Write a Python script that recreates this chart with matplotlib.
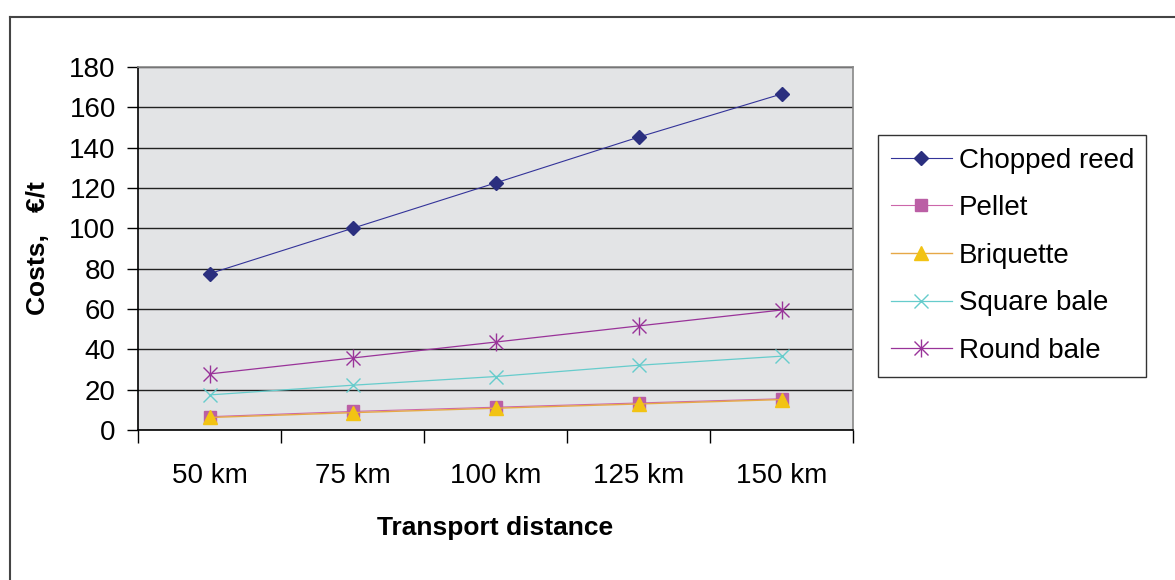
import matplotlib.pyplot as plt
from matplotlib.lines import Line2D
from matplotlib.legend_handler import HandlerTuple

plt.rcParams["font.family"] = ["Liberation Sans", "DejaVu Sans"]

distances = ["50 km", "75 km", "100 km", "125 km", "150 km"]
chopped_reed = [77.5, 100.0, 122.5, 145.2, 166.6]
pellet = [6.6, 9.2, 11.3, 13.4, 15.5]
briquette = [6.2, 8.6, 10.8, 12.9, 15.1]
square_bale = [17.4, 22.2, 26.5, 32.1, 36.6]
round_bale = [27.8, 35.7, 43.6, 51.6, 59.5]

W, H = 1175, 580
fig = plt.figure(figsize=(W / 100, H / 100), dpi=100)
ax = fig.add_axes([138 / W, 1 - 430 / H, (853 - 138) / W, (430 - 67) / H])
ax.set_facecolor("#e3e4e6")

x = list(range(len(distances)))

h1, = ax.plot(x, chopped_reed, color="#333399", lw=0.8, marker="D", ms=7,
              mfc="#2b2f7f", mec="#2b2f7f", zorder=5)
h2, = ax.plot(x, pellet, color="#cc66aa", lw=0.8, marker="s", ms=9,
              mfc="#bb5fa5", mec="#bb5fa5", zorder=5)
h3, = ax.plot(x, briquette, color="#e6a846", lw=1.0, marker="^", ms=10,
              mfc="#f2c314", mec="#f2c314", zorder=6)
h4, = ax.plot(x, square_bale, color="#66cccc", lw=0.9, marker="x", ms=10,
              mew=1.0, zorder=5)
h5, = ax.plot(x, round_bale, color="#993399", lw=0.9, marker="x", ms=10,
              mew=1.0, zorder=5)
h5b, = ax.plot(x, round_bale, ls="none", color="#993399", marker="|", ms=13,
               mew=1.0, zorder=5)

ax.set_xlim(-0.5, len(distances) - 0.5)
ax.set_ylim(0, 180)
ax.set_yticks(range(0, 181, 20))
ax.yaxis.grid(True, color="#222222", lw=1.0)
ax.set_axisbelow(True)

ax.set_xticks([i - 0.5 for i in range(len(distances) + 1)])
ax.set_xticklabels([])
ax.set_xticks(x, minor=True)
ax.set_xticklabels(distances, minor=True)
ax.tick_params(axis="x", which="major", length=9, width=1, direction="out")
ax.tick_params(axis="x", which="minor", length=0, pad=24, labelsize=20)
ax.tick_params(axis="y", length=8, width=1, direction="out", pad=8, labelsize=20)

for side in ["left", "bottom"]:
    ax.spines[side].set_color("black")
    ax.spines[side].set_linewidth(1.2)
for side in ["top", "right"]:
    ax.spines[side].set_color("#888888")
    ax.spines[side].set_linewidth(1.2)

ax.set_xlabel("Transport distance", fontsize=19, fontweight="bold", labelpad=19)
ax.set_ylabel("Costs,   \u20ac/t", fontsize=19, fontweight="bold", labelpad=14)

leg = fig.legend([h1, h2, h3, h4, (h5, h5b)],
                 ["Chopped reed", "Pellet", "Briquette", "Square bale", "Round bale"],
                 handler_map={tuple: HandlerTuple(ndivide=1)},
                 loc="upper left", bbox_to_anchor=(878 / W, 1 - 135 / H),
                 fontsize=20, frameon=True, fancybox=False, handlelength=2.2,
                 labelspacing=0.78, borderpad=0.45, handletextpad=0.25,
                 borderaxespad=0)
leg.get_frame().set_edgecolor("black")
leg.get_frame().set_linewidth(1.0)

# outer chart border (only top and left visible)
fig.add_artist(Line2D([10 / W, 1], [1 - 17 / H, 1 - 17 / H], color="#444444", lw=1.5))
fig.add_artist(Line2D([10 / W, 10 / W], [0, 1 - 17 / H], color="#444444", lw=1.5))

fig.savefig("out.png", dpi=100)
